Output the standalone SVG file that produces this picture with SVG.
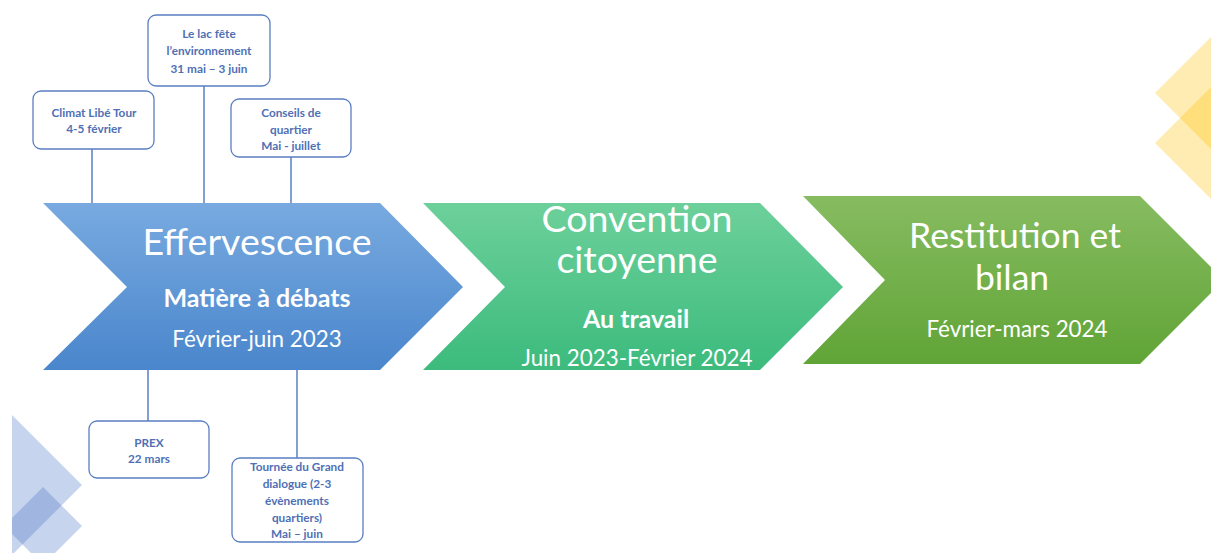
<svg xmlns="http://www.w3.org/2000/svg" width="1211" height="553" viewBox="0 0 1211 553">
<style>
.big{font-family:Lato,"Open Sans","Liberation Sans",sans-serif;font-size:37.5px;fill:#ffffff;text-anchor:middle}
.big3{font-family:Lato,"Open Sans","Liberation Sans",sans-serif;font-size:35.5px;fill:#ffffff;text-anchor:middle}
.sub{font-family:Lato,"Open Sans","Liberation Sans",sans-serif;font-size:25px;font-weight:bold;fill:#ffffff;text-anchor:middle}
.date{font-family:Lato,"Open Sans","Liberation Sans",sans-serif;font-size:22.4px;fill:#ffffff;text-anchor:middle}
.box{fill:#ffffff;stroke:#5a7ec2;stroke-width:1.3}
.bt{font-family:Lato,"Open Sans","Liberation Sans",sans-serif;font-size:11.8px;font-weight:bold;fill:#4f70b5;text-anchor:middle}
.con{stroke:#5a7ec2;stroke-width:1.5;fill:none}
</style>
<defs>
<linearGradient id="gBlue" x1="0" y1="0" x2="0" y2="1"><stop offset="0" stop-color="#78aae0"/><stop offset="1" stop-color="#4a86cc"/></linearGradient>
<linearGradient id="gTeal" x1="0" y1="0" x2="0" y2="1"><stop offset="0" stop-color="#6dd09b"/><stop offset="1" stop-color="#3cbb7d"/></linearGradient>
<linearGradient id="gGreen" x1="0" y1="0" x2="0" y2="1"><stop offset="0" stop-color="#87bc61"/><stop offset="1" stop-color="#60a436"/></linearGradient>
<clipPath id="clipL"><rect x="12" y="0" width="200" height="553"/></clipPath>
</defs>

<g id="deco">
<g clip-path="url(#clipL)" fill="#4472c4" fill-opacity="0.3">
<polygon points="12,415 82,485 12,555 -58,485"/>
<polygon points="43,487 82,526 43,565 4,526"/>
</g>
<g fill="#ffc000" fill-opacity="0.3">
<polygon points="1215,33 1275,93 1215,153 1155,93"/>
<polygon points="1215,83 1275,143 1215,203 1155,143"/>
</g>
</g>

<g id="connectors">
<line class="con" x1="92" y1="149" x2="92" y2="203"/>
<line class="con" x1="204" y1="86" x2="204" y2="203"/>
<line class="con" x1="291" y1="157" x2="291" y2="203"/>
<line class="con" x1="148" y1="370" x2="148" y2="421"/>
<line class="con" x1="297" y1="370" x2="297" y2="458"/>
</g>

<g id="phase1">
<polygon points="43,203 380,203 463,287 380,370 43,370 127,287" fill="url(#gBlue)"/>
<text class="big" x="257" y="255">Effervescence</text>
<text class="sub" x="257" y="307">Matière à débats</text>
<text class="date" x="257" y="347">Février-juin 2023</text>
</g>

<g id="phase2">
<polygon points="423,203 760,203 843,287 760,370 423,370 505,287" fill="url(#gTeal)"/>
<text class="big" x="637" y="232">Convention</text>
<text class="big" x="637" y="273">citoyenne</text>
<text class="sub" x="636" y="328">Au travail</text>
<text class="date" x="637" y="366">Juin 2023-Février 2024</text>
</g>

<g id="phase3">
<polygon points="803,196 1140,196 1224,280 1140,364 803,364 885,280" fill="url(#gGreen)"/>
<text class="big3" x="1015" y="248">Restitution et</text>
<text class="big3" x="1012" y="290">bilan</text>
<text class="date" x="1017" y="337">Février-mars 2024</text>
</g>

<g id="ev-climat">
<rect class="box" x="33" y="91" width="121" height="58" rx="8"/>
<text class="bt" x="94" y="117">Climat Libé Tour</text>
<text class="bt" x="94" y="133">4-5 février</text>
</g>

<g id="ev-lac">
<rect class="box" x="148" y="15" width="122" height="71" rx="8"/>
<text class="bt" x="209" y="38">Le lac fête</text>
<text class="bt" x="209" y="55">l’environnement</text>
<text class="bt" x="209" y="73">31 mai – 3 juin</text>
</g>

<g id="ev-conseils">
<rect class="box" x="231" y="99" width="120" height="58" rx="8"/>
<text class="bt" x="291" y="117">Conseils de</text>
<text class="bt" x="291" y="134">quartier</text>
<text class="bt" x="291" y="150">Mai - juillet</text>
</g>

<g id="ev-prex">
<rect class="box" x="89" y="421" width="120" height="57" rx="8"/>
<text class="bt" x="149" y="447">PREX</text>
<text class="bt" x="149" y="463">22 mars</text>
</g>

<g id="ev-tournee">
<rect class="box" x="232" y="458" width="131" height="84" rx="8"/>
<text class="bt" x="297" y="471">Tournée du Grand</text>
<text class="bt" x="297" y="488">dialogue (2-3</text>
<text class="bt" x="297" y="505">évènements</text>
<text class="bt" x="297" y="522">quartiers)</text>
<text class="bt" x="297" y="538">Mai – juin</text>
</g>
</svg>
